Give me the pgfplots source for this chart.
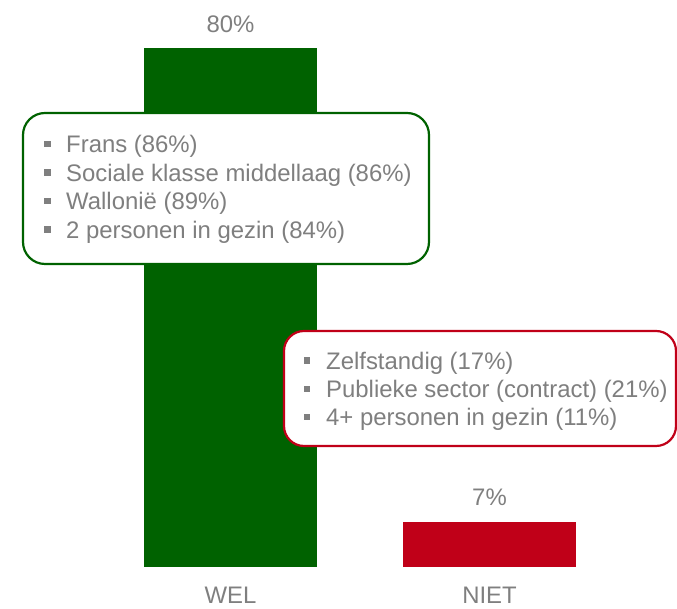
\documentclass[border=0pt]{standalone}
\usepackage{fontspec}
\setmainfont{Liberation Sans}
\usepackage{pgfplots}
\pgfplotsset{compat=1.18}
\definecolor{welgreen}{RGB}{0,98,0}
\definecolor{nietred}{RGB}{192,0,24}
\definecolor{txtgray}{RGB}{127,127,127}

\begin{document}
\begin{tikzpicture}[font=\fontsize{23.9bp}{28bp}\selectfont]
\begin{axis}[
  scale only axis, width=677bp, height=567bp,
  xmin=-0.8900, xmax=1.7239, ymin=0, ymax=87.40,
  axis line style={draw=none}, major tick style={draw=none},
  ytick=\empty, xtick={0,1}, xticklabels={WEL,NIET},
  xticklabel style={anchor=base, yshift=-37bp, text=txtgray},
  /pgf/number format/assume math mode=true,
  clip=false,
]
\addplot[ybar, bar width=173bp, bar shift=0pt, draw=none, fill=welgreen,
  nodes near coords={\pgfmathprintnumber{\pgfplotspointmeta}\%},
  every node near coord/.append style={anchor=base, yshift=16bp, text=txtgray}]
  coordinates {(0,80)};
\addplot[ybar, bar width=173bp, bar shift=0pt, draw=none, fill=nietred,
  nodes near coords={\pgfmathprintnumber{\pgfplotspointmeta}\%},
  every node near coord/.append style={anchor=base, yshift=16bp, text=txtgray}]
  coordinates {(1,7)};
\end{axis}

% callouts, in pixel-like units from the top left corner
\begin{scope}[shift={(current axis.north west)}, x=1bp, y=-1bp, text=txtgray]
\draw[welgreen, line width=2.2bp, fill=white, rounded corners=22bp] (23,113) rectangle (429,264);
\foreach \yy/\txt in {152.7/{Frans (86\%)}, 181.2/{Sociale klasse middellaag (86\%)},
    209.7/{Wallonië (89\%)}, 238.2/{2 personen in gezin (84\%)}} {
  \fill[txtgray] (44,\yy-12) rectangle (50.5,\yy-5.5);
  \node[anchor=base west, inner sep=0pt] at (66,\yy) {\txt};
}
\draw[nietred, line width=2.2bp, fill=white, rounded corners=20bp] (284,331) rectangle (676,446);
\foreach \yy/\txt in {369.3/{Zelfstandig (17\%)}, 397.7/{Publieke sector (contract) (21\%)},
    426/{4+ personen in gezin (11\%)}} {
  \fill[txtgray] (303.5,\yy-12) rectangle (310,\yy-5.5);
  \node[anchor=base west, inner sep=0pt] at (326,\yy) {\txt};
}
\end{scope}
\pgfresetboundingbox
\path[use as bounding box] (current axis.north west) rectangle ++(677bp,-609bp);
\end{tikzpicture}
\end{document}
